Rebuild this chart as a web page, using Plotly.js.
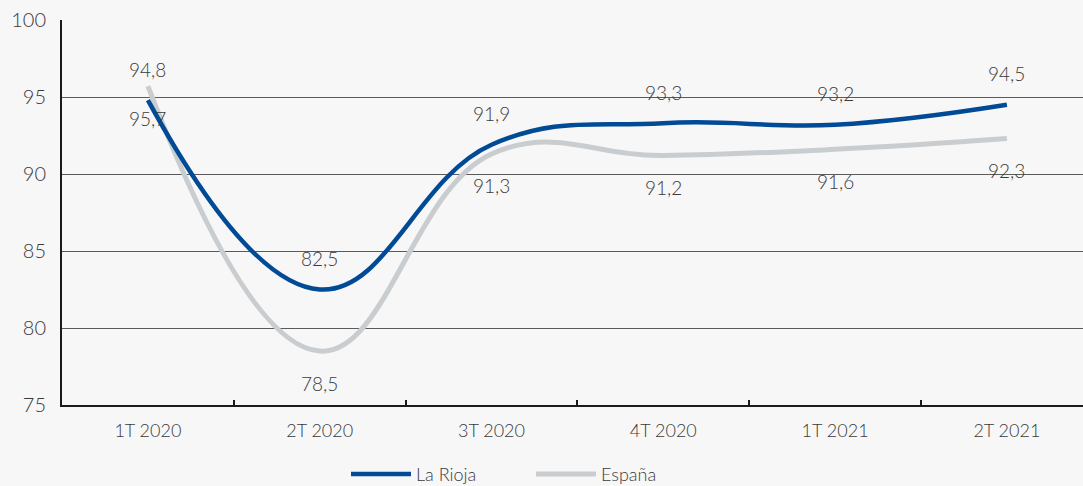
<!DOCTYPE html>
<html>
<head>
<meta charset="utf-8">
<script src="https://cdn.plot.ly/plotly-3.0.1.min.js"></script>
<style>
  html, body { margin: 0; padding: 0; background: #f7f7f7; overflow: hidden; }
  #chart { width: 1083px; height: 486px; }
</style>
</head>
<body>
<div id="chart"></div>
<script>
// Quarterly index values
const quarters = ['1T 2020', '2T 2020', '3T 2020', '4T 2020', '1T 2021', '2T 2021'];
const laRioja = [94.8, 82.5, 91.9, 93.3, 93.2, 94.5];
const espana  = [95.7, 78.5, 91.3, 91.2, 91.6, 92.3];
const yTicks = [75, 80, 85, 90, 95, 100];

const blue = '#004a96';
const grey = '#c9cdcf';
const textColor = '#3a3a3a';
const fontFamily = 'Lato, "Open Sans", sans-serif';

const fmt = v => v.toFixed(1).replace('.', ',');

const traces = [
  {
    x: quarters, y: espana, name: 'España', type: 'scatter', mode: 'lines',
    line: { color: grey, width: 5, shape: 'spline', smoothing: 1.2 }
  },
  {
    x: quarters, y: laRioja, name: 'La Rioja', type: 'scatter', mode: 'lines',
    line: { color: blue, width: 4.5, shape: 'spline', smoothing: 1.2 }
  }
];

// Value labels: La Rioja above its line, España below
const labelFont = { size: 19, color: textColor, family: fontFamily, weight: 300 };
const annotations = [];
quarters.forEach((q, i) => {
  annotations.push({
    x: q, y: laRioja[i], xref: 'x', yref: 'y', text: fmt(laRioja[i]),
    showarrow: false, yshift: 31, font: labelFont
  });
  annotations.push({
    x: q, y: espana[i], xref: 'x', yref: 'y', text: fmt(espana[i]),
    showarrow: false, yshift: -32, font: labelFont
  });
});

const layout = {
  width: 1083, height: 486,
  paper_bgcolor: '#f7f7f7', plot_bgcolor: '#f7f7f7',
  margin: { l: 62, r: 0, t: 20, b: 81, autoexpand: false },
  font: { family: fontFamily, color: textColor, size: 18, weight: 300 },
  showlegend: true,
  legend: {
    orientation: 'h', x: (346 - 62) / 1021, xanchor: 'left', y: -0.18, yanchor: 'middle',
    traceorder: 'reversed', font: { size: 18, color: textColor, weight: 300 },
    itemwidth: 60, entrywidth: 110, bgcolor: 'rgba(0,0,0,0)'
  },
  xaxis: {
    type: 'category', range: [-0.5, 5.443],
    showline: true, linecolor: '#1a1a1a', linewidth: 2,
    ticks: 'inside', tickson: 'boundaries', ticklen: 5, tickcolor: '#1a1a1a', tickwidth: 2,
    ticklabelstandoff: 8,
    showgrid: false, tickfont: { size: 18, color: textColor, weight: 300 }, fixedrange: true
  },
  yaxis: {
    range: [75, 100], tickvals: yTicks, ticktext: yTicks.map(String),
    showline: true, linecolor: '#1a1a1a', linewidth: 2,
    showgrid: true, gridcolor: '#5a5a5a', gridwidth: 1, zeroline: false,
    ticks: '', ticklabelstandoff: 10, tickfont: { size: 20, color: textColor, weight: 300 }, fixedrange: true
  },
  annotations: annotations
};

Plotly.newPlot('chart', traces, layout, { displayModeBar: false, staticPlot: true });
</script>
</body>
</html>
